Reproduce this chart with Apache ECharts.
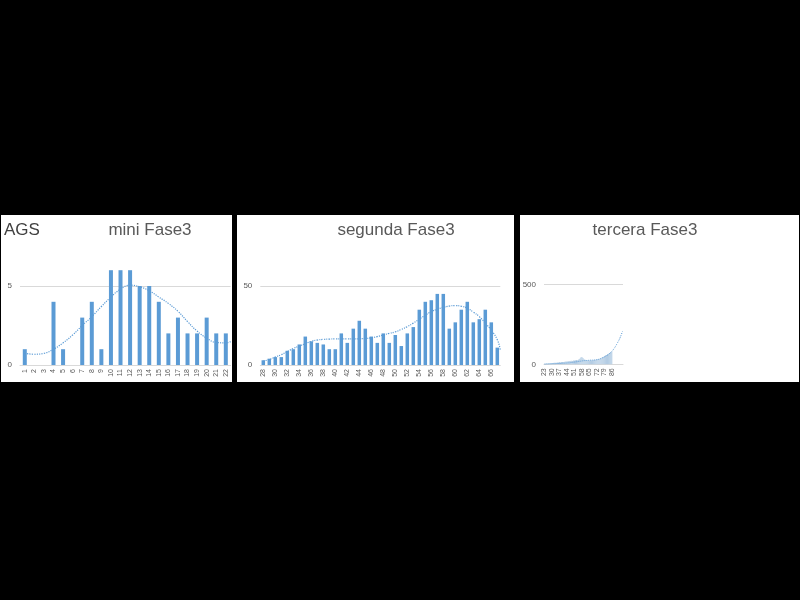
<!DOCTYPE html>
<html><head><meta charset="utf-8">
<script src="https://cdn.jsdelivr.net/npm/echarts@6/dist/echarts.min.js"></script>
<style>html,body{margin:0;padding:0;background:#000}#c{width:800px;height:600px}</style>
</head><body><div id="c"></div>
<script>
// ---- data ----
const cats1 = ['1','2','3','4','5','6','7','8','9','10','11','12','13','14','15','16','17','18','19','20','21','22'];
const vals1 = [1,0,0,4,1,0,3,4,1,6,6,6,5,5,4,2,3,2,2,3,2,2];
const trend1 = [0.74,0.68,0.74,1.0,1.4,1.9,2.5,3.06,3.7,4.3,4.8,5.05,4.95,4.7,4.3,3.9,3.4,2.75,2.15,1.7,1.43,1.4,1.48];

const cats2 = ['28','29','30','31','32','33','34','35','36','37','38','39','40','41','42','43','44','45','46','47','48','49','50','51','52','53','54','55','56','57','58','59','60','61','62','63','64','65','66','67'];
const vals2 = [3,4,5,5,9,10,13,18,15,14,13,10,10,20,14,23,28,23,18,14,20,14,19,12,20,24,35,40,41,45,45,23,27,35,40,27,29,35,27,11];
const trend2 = [2.5,3.5,5,6.5,8.5,10.5,12,13.5,15,15.8,16.2,16.4,16.5,16.5,16.5,16.5,16.6,16.8,17.2,18,19,20,21,22.5,24.3,26.5,29,31.5,33.8,35.3,36.5,37.3,37.6,37.2,36,33.5,30.6,26.5,22,16,9.5];

const cats3 = ['23','24','25','26','27','28','29','30','31','32','33','34','35','36','37','38','39','40','41','42','43','44','45','46','47','48','49','50','51','52','53','54','55','56','57','58','59','60','61','62','63','64','65','66','67','68','69','70','71','72','73','74','75','76','77','78','79','80','81','82','83','84','85','86','87','88','89','90','91','92','93','94','95','96'];
const vals3 = [3,4,5,4,6,5,7,8,
  8,9,10,9,11,12,13,12,14,15,
  15,16,18,17,19,20,21,22,20,23,
  24,25,27,26,30,35,42,
  45,40,32,28,27,
  24,25,23,26,25,24,27,28,27,30,
  31,33,35,38,42,46,50,55,
  58,62,66,70,74,78];
const trend3 = [1,1,2,2,2,3,3,3,4,4,4,5,5,5,6,6,6,7,7,7,8,8,9,9,10,11,12,13,14,15,16,17,18,19,20,21,22,23,23,24,24,25,25,26,26,26,27,27,28,29,30,32,34,37,40,43,46,50,54,58,63,68,74,80,88,97,107,118,130,142,155,170,187,205];

const titles = ['AGS','mini Fase3','segunda Fase3','tercera Fase3'];

// ---- chart ----
const chart = echarts.init(document.getElementById('c'));
const BLUE = '#5B9BD5', GREY = '#595959', GRID = '#d9d9d9';
const FONT = 'Liberation Sans, Arial, sans-serif';

function catAxis(gi, data, interval, show) {
  return {type:'category', gridIndex:gi, data:data, boundaryGap:true,
    axisLine:{show:true, lineStyle:{color:GRID}}, axisTick:{show:false},
    axisLabel:{rotate:90, fontSize:7, color:GREY, margin:4, interval:interval, fontFamily:FONT}};
}
function valXAxis(gi, n, off) {
  return {type:'value', gridIndex:gi, min:off+0.5, max:off+n+0.5, show:false, splitLine:{show:false}};
}
function yAx(gi, max, interval) {
  return {type:'value', gridIndex:gi, min:0, max:max, interval:interval,
    axisLine:{show:false}, axisTick:{show:false},
    axisLabel:{fontSize:8, color:GREY, margin:8, showMaxLabel:false, fontFamily:FONT},
    splitLine:{show:true, showMinLine:false, showMaxLine:false, lineStyle:{color:GRID, width:1}}};
}
function trendPts(arr, start) {
  return arr.map((v,i)=>[start+i, v]);
}
const t1 = trendPts(trend1.slice(0,22), 1); t1.push([22.5, trend1[22]]);
const t2 = trendPts(trend2.slice(0,40), 1); t2.push([40.5, trend2[40]]);

const option = {
  backgroundColor:'#000',
  animation:false,
  graphic:[
    {type:'rect', shape:{x:1,y:215,width:231,height:167}, style:{fill:'#fff'}, z:-10},
    {type:'rect', shape:{x:237,y:215,width:277,height:167}, style:{fill:'#fff'}, z:-10},
    {type:'rect', shape:{x:520,y:215,width:279,height:167}, style:{fill:'#fff'}, z:-10},
    {type:'text', x:4, y:230, style:{text:titles[0], fontSize:17, fill:'#404040', fontFamily:FONT, textVerticalAlign:'middle'}},
    {type:'text', x:150, y:230, style:{text:titles[1], fontSize:17, fill:GREY, fontFamily:FONT, textAlign:'center', textVerticalAlign:'middle'}},
    {type:'text', x:396, y:230, style:{text:titles[2], fontSize:17, fill:GREY, fontFamily:FONT, textAlign:'center', textVerticalAlign:'middle'}},
    {type:'text', x:645, y:230, style:{text:titles[3], fontSize:17, fill:GREY, fontFamily:FONT, textAlign:'center', textVerticalAlign:'middle'}}
  ],
  grid:[
    {left:20, top:254.4, width:210.6, height:110.6},
    {left:260.3, top:278.1, width:240, height:86.9},
    {left:544, top:268.3, width:79, height:96}
  ],
  xAxis:[
    catAxis(0, cats1, 0),
    valXAxis(0, 22, 0),
    catAxis(1, cats2, 1),
    valXAxis(1, 40, 0),
    catAxis(2, cats3, function(idx, val){ return idx % 7 === 0 && +val <= 86; })
  ],
  yAxis:[ yAx(0, 7, 5), yAx(1, 55, 50), yAx(2, 600, 500) ],
  series:[
    {type:'bar', xAxisIndex:0, yAxisIndex:0, data:vals1, barWidth:4, itemStyle:{color:BLUE}},
    {type:'line', xAxisIndex:1, yAxisIndex:0, data:t1, smooth:true, symbol:'none', z:5,
      lineStyle:{color:BLUE, width:1.2, type:'dotted'}},
    {type:'bar', xAxisIndex:2, yAxisIndex:1, data:vals2, barWidth:3.5, itemStyle:{color:BLUE}},
    {type:'line', xAxisIndex:3, yAxisIndex:1, data:t2, smooth:true, symbol:'none', z:5,
      lineStyle:{color:BLUE, width:1.2, type:'dotted'}},
    {type:'bar', xAxisIndex:4, yAxisIndex:2, data:vals3, barCategoryGap:'0%', itemStyle:{color:'#b4cde4'}},
    {type:'line', xAxisIndex:4, yAxisIndex:2, data:trend3, smooth:true, symbol:'none', z:5,
      lineStyle:{color:BLUE, width:1, type:'dotted'}}
  ]
};
chart.setOption(option);
</script></body></html>
